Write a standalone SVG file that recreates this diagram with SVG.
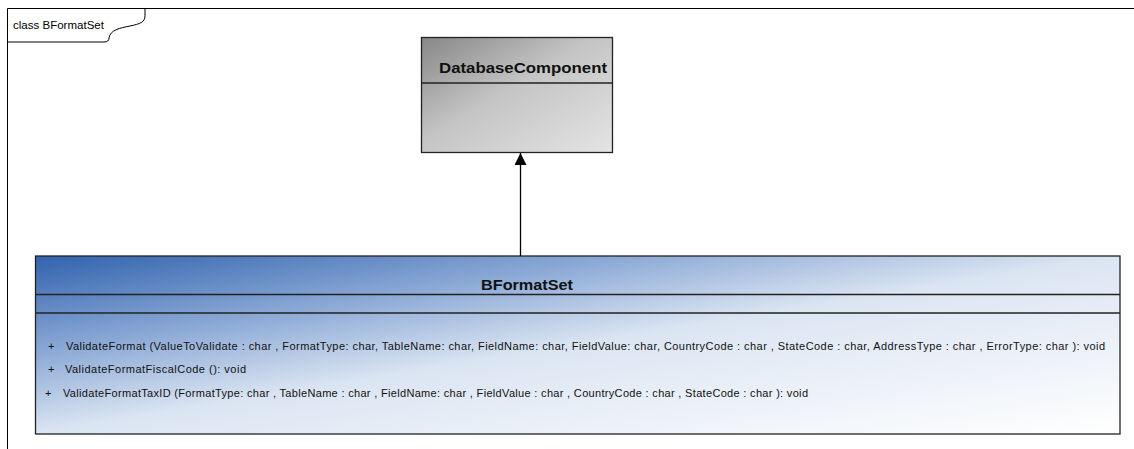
<svg xmlns="http://www.w3.org/2000/svg" width="1134" height="449" viewBox="0 0 1134 449">
<defs>
<linearGradient id="gGray" x1="0" y1="0" x2="1" y2="1">
<stop offset="0" stop-color="#878787"/>
<stop offset="0.45" stop-color="#c4c4c4"/>
<stop offset="1" stop-color="#e4e4e4"/>
</linearGradient>
<linearGradient id="gBlue" x1="0" y1="0" x2="1" y2="1">
<stop offset="0" stop-color="#3163ae"/>
<stop offset="0.27" stop-color="#8aa8d5"/>
<stop offset="0.5" stop-color="#dbe5f2"/>
<stop offset="1" stop-color="#ffffff"/>
</linearGradient>
<marker id="tri" markerWidth="12" markerHeight="12" refX="12" refY="6" orient="auto" markerUnits="userSpaceOnUse">
<path d="M0,0 L12,6 L0,12 Z" fill="#000"/>
</marker>
<style>
.frame{fill:none;stroke:#000;stroke-width:1}
.box{stroke:#222;stroke-width:1.3}
.div{stroke:#222;stroke-width:1.3}
.title{font-family:"Liberation Sans",Arial,sans-serif;font-weight:bold;fill:#111}
.op{font-family:"Liberation Sans",Arial,sans-serif;font-size:11px;fill:#111}
.lbl{font-family:"Liberation Sans",Arial,sans-serif;font-size:11px;fill:#000}
.conn{stroke:#000;stroke-width:1.3;fill:none}
</style>
</defs>
<g id="frame">
<path class="frame" d="M7.5,449 V8.5 H1134"/>
<path class="frame" d="M7.5,42 H104 Q109,42 109,38 C110,30 120,28 130,26 C140,24 145,22 145,16 V8.5"/>
<text class="lbl" x="13" y="29" textLength="91" lengthAdjust="spacingAndGlyphs">class BFormatSet</text>
</g>
<g id="DatabaseComponent">
<rect class="box" x="421.5" y="37.5" width="191" height="115" fill="url(#gGray)"/>
<line class="div" x1="421.5" y1="83" x2="612.5" y2="83"/>
<text class="title" x="439" y="73" font-size="15" textLength="168" lengthAdjust="spacingAndGlyphs">DatabaseComponent</text>
</g>
<g id="BFormatSet">
<rect class="box" x="35.5" y="256" width="1084.5" height="178" fill="url(#gBlue)"/>
<line class="div" x1="35.5" y1="294.5" x2="1120" y2="294.5"/>
<line class="div" x1="35.5" y1="313" x2="1120" y2="313"/>
<text class="title" x="481" y="289.5" font-size="15" textLength="92" lengthAdjust="spacingAndGlyphs">BFormatSet</text>
<text class="op" x="48" y="350">+</text>
<text class="op" x="66" y="350" textLength="1039" lengthAdjust="spacing">ValidateFormat (ValueToValidate  : char , FormatType: char, TableName: char, FieldName: char, FieldValue: char, CountryCode : char , StateCode : char, AddressType : char , ErrorType: char ): void</text>
<text class="op" x="48" y="373">+</text>
<text class="op" x="65" y="373" textLength="181" lengthAdjust="spacing">ValidateFormatFiscalCode (): void</text>
<text class="op" x="45" y="397">+</text>
<text class="op" x="63" y="397" textLength="745" lengthAdjust="spacing">ValidateFormatTaxID  (FormatType: char , TableName : char , FieldName: char , FieldValue : char , CountryCode : char , StateCode : char ): void</text>
</g>
<g id="connectors">
<line class="conn" x1="520.5" y1="256" x2="520.5" y2="153" marker-end="url(#tri)"/>
</g>
</svg>
